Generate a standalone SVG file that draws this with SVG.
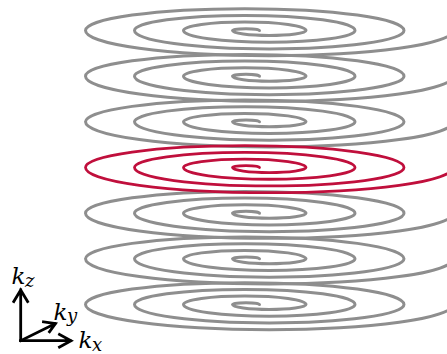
<svg xmlns="http://www.w3.org/2000/svg" width="447" height="354" viewBox="0 0 447 354">
<style>
.g{fill:none;stroke:#8e8e8e;stroke-width:3;stroke-linecap:round}
.r{fill:none;stroke:#c00f3c;stroke-width:2.8;stroke-linecap:round}
.ax{fill:none;stroke:#000;stroke-width:2.8;stroke-linecap:square;stroke-linejoin:miter}
.lb{font-family:"DejaVu Serif","Liberation Serif",serif;font-style:italic;fill:#000}
.m{font-size:23px}
.s{font-size:18px}
</style>
<defs>
<path id="sp" d="M 259.5 0 A 13.5 1.85 0 0 0 232.5 0 A 36.75 5.03 0 0 0 306 0 A 61.25 8.39 0 0 0 183.5 0 A 85.75 11.75 0 0 0 355 0 A 110.25 15.1 0 0 0 134.5 0 A 134.75 18.46 0 0 0 404 0 A 159.25 21.82 0 0 0 85.5 0 A 183.75 25.17 0 0 0 453 0"/>
</defs>
<rect width="447" height="354" fill="#fff"/>
<g id="spiral1"><use href="#sp" class="g" transform="translate(0,30.5)"/></g>
<g id="spiral2"><use href="#sp" class="g" transform="translate(0,76.2)"/></g>
<g id="spiral3"><use href="#sp" class="g" transform="translate(0,121.8)"/></g>
<g id="spiral5"><use href="#sp" class="g" transform="translate(0,213.2)"/></g>
<g id="spiral6"><use href="#sp" class="g" transform="translate(0,258.8)"/></g>
<g id="spiral7"><use href="#sp" class="g" transform="translate(0,304.5)"/></g>
<g id="spiral4"><use href="#sp" class="r" transform="translate(0,167.5)"/></g>
<g id="axes">
<path class="ax" d="M 20.7 340.7 L 20.7 290 M 13.8 301.5 L 20.7 290 L 27.6 301.5"/>
<path class="ax" d="M 20.7 340.7 L 70.5 340.7 M 59.5 334.5 L 71 340.7 L 59.5 347"/>
<path class="ax" d="M 20.7 340.7 L 55 323.8 M 43.5 321.8 L 55.5 323.5 L 49.5 331.8"/>
</g>
<g id="labels">
<text class="lb m" x="11.5" y="283.5">k</text><text class="lb s" x="25" y="287">z</text>
<text class="lb m" x="53.5" y="319.5">k</text><text class="lb s" x="67" y="321.5">y</text>
<text class="lb m" x="78.5" y="347.5">k</text><text class="lb s" x="92" y="351">x</text>
</g>
</svg>
